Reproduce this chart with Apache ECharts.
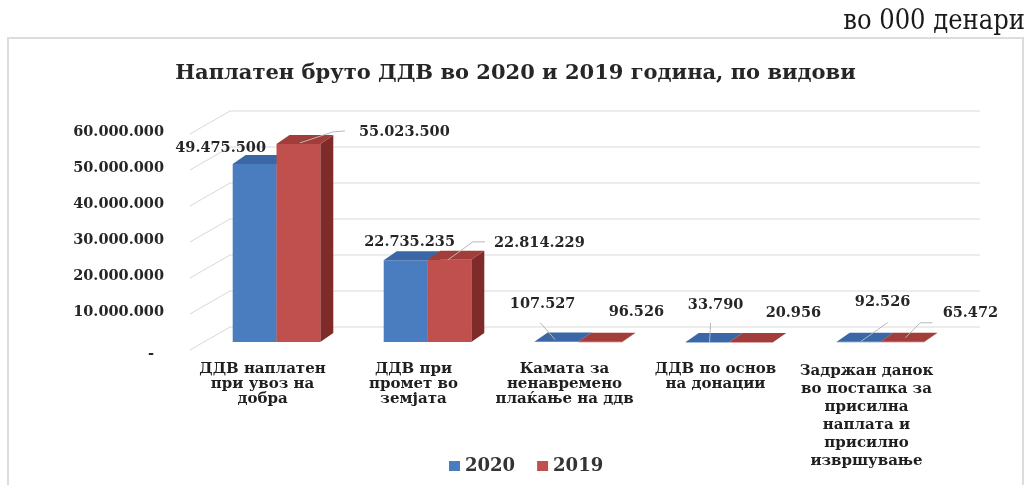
<!DOCTYPE html>
<html>
<head>
<meta charset="utf-8">
<script src="https://cdn.jsdelivr.net/npm/echarts@6/dist/echarts.min.js"></script>
<style>
  html, body { margin: 0; padding: 0; background: #ffffff; }
  #chart { width: 1031px; height: 485px; }
</style>
</head>
<body>
<div id="chart"></div>
<script>
// VAT collected by type, in thousands of denars
const categories = [
  'ДДВ наплатен\nпри увоз на\nдобра',
  'ДДВ при\nпромет во\nземјата',
  'Камата за\nненавремено\nплаќање на ддв',
  'ДДВ по основ\nна донации',
  'Задржан данок\nво постапка за\nприсилна\nнаплата и\nприсилно\nизвршување'
];
const values2020 = [49475500, 22735235, 107527, 33790, 92526];
const values2019 = [55023500, 22814229, 96526, 20956, 65472];
const yTicks = [0, 10000000, 20000000, 30000000, 40000000, 50000000, 60000000];
const seriesNames = ['2020', '2019'];

// Value-label placement, relative to the top centre of each bar's front face
const labelOffsets2020 = [[-34, -16], [4, -18], [-14, -37], [8, -37], [24, -39]];
const labelOffsets2019 = [[106, -12], [90, -17], [36, -29], [42, -29], [68, -29]];
// Leader lines from bar tops toward their labels (same relative frame)
const leaders2020 = [null, null, [[-1.5, -2], [-16.5, -19]], [[2, 0], [3, -19]], [[2, 0], [29, -19]]];
const leaders2019 = [[[1.5, -1], [34.5, -12], [46.5, -13]], [[-1.5, 0], [23.5, -18], [35.5, -18]], null, null, [[3, -4], [18, -19], [30, -19]]];

// 3D look: depth offset of top/side faces and of the back wall
const DX = 13, DY = 9;
const WALL_DY = 15;
const BAR_FRACTION = 0.29;

const palettes = [
  { front: '#4a7dbf', top: '#3b67a6', side: '#2f5690' },
  { front: '#c0504d', top: '#a23d3a', side: '#7e2b29' }
];

const NUM_FONT = 'DejaVu Serif';
const fmt = v => String(Math.round(v)).replace(/\B(?=(\d{3})+(?!\d))/g, '.');

function barRenderer(sideSign, palette, offsets, leaders) {
  return function (params, api) {
    const idx = api.value(0);
    const val = api.value(1);
    const top = api.coord([idx, val]);
    const base = api.coord([idx, 0]);
    const band = api.size([1, 0])[0];
    const w = band * BAR_FRACTION;
    const x0 = sideSign < 0 ? top[0] - w : top[0];
    const x1 = x0 + w;
    const yT = top[1], yB = base[1];
    const cx = x0 + w / 2;
    const children = [
      { type: 'polygon', shape: { points: [[x1, yT], [x1 + DX, yT - DY], [x1 + DX, yB - DY], [x1, yB]] },
        style: { fill: palette.side } },
      { type: 'rect', shape: { x: x0, y: yT, width: w, height: Math.max(yB - yT, 0.5) },
        style: { fill: palette.front } },
      { type: 'polygon', shape: { points: [[x0, yT], [x0 + DX, yT - DY], [x1 + DX, yT - DY], [x1, yT]] },
        style: { fill: palette.top } }
    ];
    const lead = leaders[idx];
    if (lead) {
      children.push({
        type: 'polyline',
        shape: { points: lead.map(p => [cx + p[0], yT + p[1]]) },
        style: { stroke: '#b8b8b8', lineWidth: 1, fill: null }
      });
    }
    const off = offsets[idx];
    children.push({
      type: 'text',
      x: cx + off[0],
      y: yT + off[1],
      style: {
        text: fmt(val),
        fill: '#262626',
        fontFamily: NUM_FONT,
        fontWeight: 'bold',
        fontSize: 14.5,
        align: 'center',
        verticalAlign: 'middle'
      }
    });
    return { type: 'group', children };
  };
}

const chart = echarts.init(document.getElementById('chart'), null, { renderer: 'canvas' });

chart.setOption({
  backgroundColor: '#ffffff',
  animation: false,
  title: {
    text: 'Наплатен бруто ДДВ во 2020 и 2019 година, по видови',
    left: 'center',
    top: 58,
    textStyle: { fontFamily: 'DejaVu Serif', fontWeight: 'bold', fontSize: 21, color: '#262626' }
  },
  graphic: [
    { type: 'rect', silent: true, z: -1,
      shape: { x: 8, y: 38, width: 1015, height: 470 },
      style: { fill: null, stroke: '#dcdcdc', lineWidth: 2 } },
    { type: 'text', right: 6, top: 8,
      style: { text: 'во 000 денари', fontFamily: 'DejaVu Serif Condensed', fontSize: 27, fill: '#1a1a1a' } }
  ],
  legend: {
    data: seriesNames.map(n => ({ name: n, icon: 'rect' })),
    left: 444,
    top: 452,
    itemWidth: 11,
    itemHeight: 10,
    itemGap: 22,
    textStyle: { fontFamily: NUM_FONT, fontWeight: 'bold', fontSize: 18, color: '#333333' }
  },
  grid: { left: 201, top: 126, width: 755, height: 216 },
  xAxis: {
    type: 'category',
    data: categories,
    axisLine: { show: false },
    axisTick: { show: false },
    axisLabel: {
      interval: 0,
      margin: 20,
      padding: [0, 28, 0, 0],
      fontFamily: NUM_FONT,
      fontWeight: 'bold',
      fontSize: 15,
      lineHeight: 15,
      color: '#1f1f1f',
      formatter: (v, i) => i === 4 ? v.split('\n').map(l => '{t|' + l + '}').join('\n') : v,
      rich: { t: { fontFamily: NUM_FONT, fontWeight: 'bold', fontSize: 15, lineHeight: 18, color: '#1f1f1f' } }
    }
  },
  yAxis: {
    type: 'value',
    min: 0,
    max: 60000000,
    interval: 10000000,
    axisLine: { show: false },
    axisTick: { show: false },
    splitLine: { show: false },
    axisLabel: {
      margin: 37,
      padding: [12, 0, 0, 0],
      fontFamily: NUM_FONT,
      fontWeight: 'bold',
      fontSize: 14.5,
      color: '#262626',
      formatter: v => v === 0 ? '{d|-}' : fmt(v),
      rich: { d: { fontFamily: NUM_FONT, fontWeight: 'bold', fontSize: 14.5, color: '#262626', padding: [12, 10, 0, 0] } }
    }
  },
  series: [
    {
      name: 'wall',
      type: 'custom',
      silent: true,
      z: 0,
      data: yTicks.map(v => [0, v]),
      renderItem: (params, api) => {
        const y = api.coord([0, api.value(1)])[1] - WALL_DY;
        const cs = params.coordSys;
        return {
          type: 'polyline',
          shape: { points: [[cs.x - 11, y + 23], [cs.x + 29, y], [cs.x + cs.width + 24, y]] },
          style: { stroke: '#d9d9d9', lineWidth: 1, fill: null }
        };
      }
    },
    {
      name: seriesNames[0],
      type: 'custom',
      z: 2,
      itemStyle: { color: palettes[0].front },
      data: values2020.map((v, i) => [i, v]),
      renderItem: barRenderer(-1, palettes[0], labelOffsets2020, leaders2020)
    },
    {
      name: seriesNames[1],
      type: 'custom',
      z: 3,
      itemStyle: { color: palettes[1].front },
      data: values2019.map((v, i) => [i, v]),
      renderItem: barRenderer(1, palettes[1], labelOffsets2019, leaders2019)
    }
  ]
});
</script>
</body>
</html>
